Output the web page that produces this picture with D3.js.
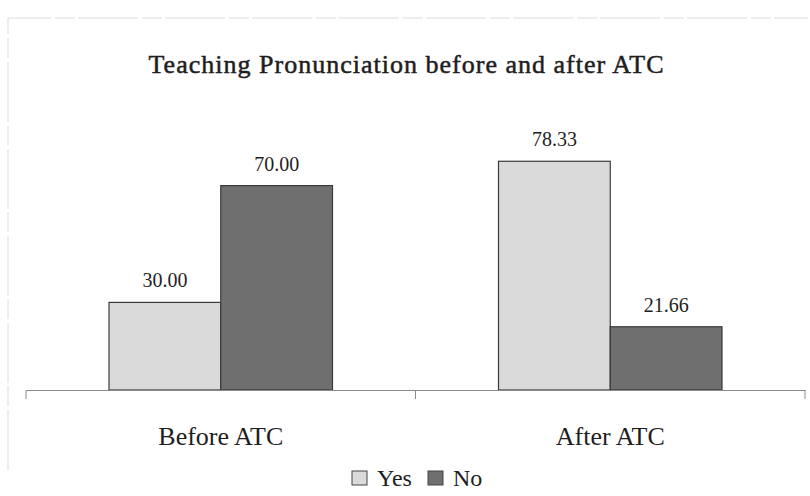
<!DOCTYPE html>
<html>
<head>
<meta charset="utf-8">
<script src="https://cdn.jsdelivr.net/npm/d3@7"></script>
<style>
  body { margin: 0; background: #fff; }
  text { font-family: "Liberation Serif", "Times New Roman", serif; fill: #1e1e1e; }
</style>
</head>
<body>
<div id="chart"></div>
<script>
var categories = ["Before ATC", "After ATC"];
var seriesNames = ["Yes", "No"];
var yesValues = [30.00, 78.33];
var noValues = [70.00, 21.66];
var valueLabels = [["30.00", "70.00"], ["78.33", "21.66"]];

var outerWidth = 810, outerHeight = 496;
var margin = {top: 105, right: 5, bottom: 106, left: 26};
var width = outerWidth - margin.left - margin.right,
    height = outerHeight - margin.top - margin.bottom;

var svg = d3.select("#chart").append("svg")
    .attr("width", outerWidth)
    .attr("height", outerHeight);

// faint frame like the scanned original
svg.append("path")
    .attr("d", "M8,470 L8,18 L808,18")
    .attr("fill", "none")
    .attr("stroke", "#dcdcdc")
    .attr("stroke-width", 1)
    .attr("stroke-dasharray", "60,4,20,3");

svg.append("text")
    .attr("x", 406)
    .attr("y", 73)
    .attr("text-anchor", "middle")
    .attr("textLength", 515)
    .attr("lengthAdjust", "spacing")
    .style("font-size", "26px")
    .style("stroke", "#1e1e1e")
    .style("stroke-width", 0.5)
    .text("Teaching Pronunciation before and after ATC");

var g = svg.append("g")
    .attr("transform", "translate(" + margin.left + "," + margin.top + ")");

var x0 = d3.scaleBand().domain(categories).range([0, width]).paddingInner(0).paddingOuter(0);
var x1 = d3.scaleBand().domain(seriesNames).range([83, x0.bandwidth() - 83]);
var y = d3.scaleLinear().domain([0, 97.6]).range([height, 0]);

var colors = {Yes: "#dadada", No: "#6f6f6f"};

var rows = categories.map(function (c, i) {
  return [
    {cat: c, s: "Yes", v: yesValues[i], label: valueLabels[i][0]},
    {cat: c, s: "No", v: noValues[i], label: valueLabels[i][1]}
  ];
});

var groups = g.selectAll("g.grp")
    .data(rows)
    .enter().append("g")
    .attr("class", "grp")
    .attr("transform", function (d) { return "translate(" + x0(d[0].cat) + ",0)"; });

groups.selectAll("rect")
    .data(function (d) { return d; })
    .enter().append("rect")
    .attr("x", function (d) { return x1(d.s); })
    .attr("y", function (d) { return y(d.v); })
    .attr("width", x1.bandwidth())
    .attr("height", function (d) { return height - y(d.v); })
    .attr("fill", function (d) { return colors[d.s]; })
    .attr("stroke", "#3a3a3a")
    .attr("stroke-width", 1.2);

groups.selectAll("text.label")
    .data(function (d) { return d; })
    .enter().append("text")
    .attr("class", "label")
    .attr("x", function (d) { return x1(d.s) + x1.bandwidth() / 2; })
    .attr("y", function (d) { return y(d.v) - 15; })
    .attr("text-anchor", "middle")
    .style("font-size", "20px")
    .text(function (d) { return d.label; });

// category axis
var xAxis = d3.axisBottom(x0).tickSize(0).tickPadding(37);
var ax = g.append("g")
    .attr("transform", "translate(0," + height + ")")
    .call(xAxis);
ax.select(".domain").attr("stroke", "#8a8a8a");
ax.selectAll(".tick text")
    .style("font-size", "26px")
    .style("font-family", "Liberation Serif, serif")
    .attr("fill", "#1e1e1e");

// tick marks between categories
ax.selectAll("line.sep")
    .data([0, x0.bandwidth(), width])
    .enter().append("line")
    .attr("class", "sep")
    .attr("x1", function (d) { return d; })
    .attr("x2", function (d) { return d; })
    .attr("y1", 0)
    .attr("y2", 9)
    .attr("stroke", "#8a8a8a");

// legend
var legend = svg.append("g").attr("transform", "translate(352,478)");
var items = legend.selectAll("g")
    .data(seriesNames)
    .enter().append("g")
    .attr("transform", function (d, i) { return "translate(" + (i * 76) + ",0)"; });
items.append("rect")
    .attr("x", 0).attr("y", -7)
    .attr("width", 15).attr("height", 14)
    .attr("fill", function (d) { return colors[d]; })
    .attr("stroke", "#444");
items.append("text")
    .attr("x", 25).attr("y", 8)
    .style("font-size", "24px")
    .text(function (d) { return d; });
</script>
</body>
</html>
